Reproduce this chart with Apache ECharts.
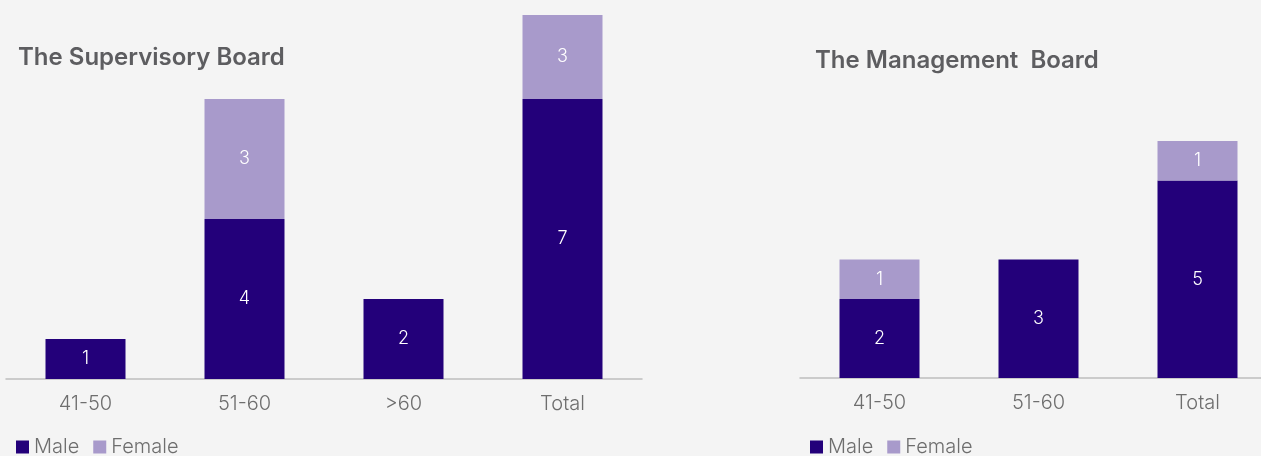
<!DOCTYPE html>
<html>
<head>
<meta charset="utf-8">
<script src="https://cdn.jsdelivr.net/npm/echarts@6/dist/echarts.min.js"></script>
<style>
  html, body { margin: 0; padding: 0; background: #f4f4f4; }
  #chart { width: 1261px; height: 456px; }
</style>
</head>
<body>
<div id="chart"></div>
<script>
const supCats = ['41-50', '51-60', '>60', 'Total']
const supMale = [1, 4, 2, 7]
const supFemale = [null, 3, null, 3]

const mgmtCats = ['41-50', '51-60', 'Total']
const mgmtMale = [2, 3, 5]
const mgmtFemale = [1, null, 1]

const MALE = '#23007a'
const FEMALE = '#a89acb'
const FONT = 'Inter, "Open Sans", sans-serif'

const chart = echarts.init(document.getElementById('chart'))

const label = {
  show: true,
  position: 'inside',
  color: '#ffffff',
  fontSize: 18,
  fontWeight: 300,
  fontFamily: FONT,
}

function xAxis(cats, gridIndex) {
  return {
    type: 'category',
    data: cats,
    gridIndex,
    axisLine: { lineStyle: { color: '#bdbdbd', width: 1.5 } },
    axisTick: { show: false },
    axisLabel: { color: '#6e6e6e', fontSize: 20, fontWeight: 300, fontFamily: FONT, margin: 15 },
  }
}

function yAxis(max, gridIndex) {
  return { type: 'value', gridIndex, min: 0, max, show: false, splitLine: { show: false } }
}

const legendStyle = {
  data: ['Male', 'Female'],
  icon: 'rect',
  itemWidth: 13,
  itemHeight: 13,
  itemGap: 14,
  itemStyle: { borderWidth: 0 },
  textStyle: { color: '#6e6e6e', fontSize: 20, fontWeight: 300, fontFamily: FONT },
  padding: 0,
  top: 437,
}

chart.setOption({
  backgroundColor: '#f4f4f4',
  animation: false,
  title: [
    {
      text: 'The Supervisory Board',
      left: 18, top: 46, padding: 0,
      textStyle: { color: '#5d5d60', fontSize: 24, fontWeight: 600, fontFamily: FONT },
    },
    {
      text: 'The Management  Board',
      left: 815, top: 49, padding: 0,
      textStyle: { color: '#5d5d60', fontSize: 24, fontWeight: 600, fontFamily: FONT },
    },
  ],
  legend: [
    Object.assign({ left: 16 }, legendStyle),
    Object.assign({ left: 810 }, legendStyle),
  ],
  grid: [
    { left: 6, width: 636, top: 15, height: 364, outerBoundsMode: 'none' },
    { left: 800, width: 477, top: 62, height: 316, outerBoundsMode: 'none' },
  ],
  xAxis: [xAxis(supCats, 0), xAxis(mgmtCats, 1)],
  yAxis: [yAxis(9.1, 0), yAxis(8, 1)],
  series: [
    { name: 'Male', type: 'bar', stack: 'sup', xAxisIndex: 0, yAxisIndex: 0, barWidth: 80,
      data: supMale, itemStyle: { color: MALE }, label },
    { name: 'Female', type: 'bar', stack: 'sup', xAxisIndex: 0, yAxisIndex: 0, barWidth: 80,
      data: supFemale, itemStyle: { color: FEMALE }, label },
    { name: 'Male', type: 'bar', stack: 'mgmt', xAxisIndex: 1, yAxisIndex: 1, barWidth: 80,
      data: mgmtMale, itemStyle: { color: MALE }, label },
    { name: 'Female', type: 'bar', stack: 'mgmt', xAxisIndex: 1, yAxisIndex: 1, barWidth: 80,
      data: mgmtFemale, itemStyle: { color: FEMALE }, label },
  ],
})

window.addEventListener('resize', () => chart.resize())
</script>
</body>
</html>
